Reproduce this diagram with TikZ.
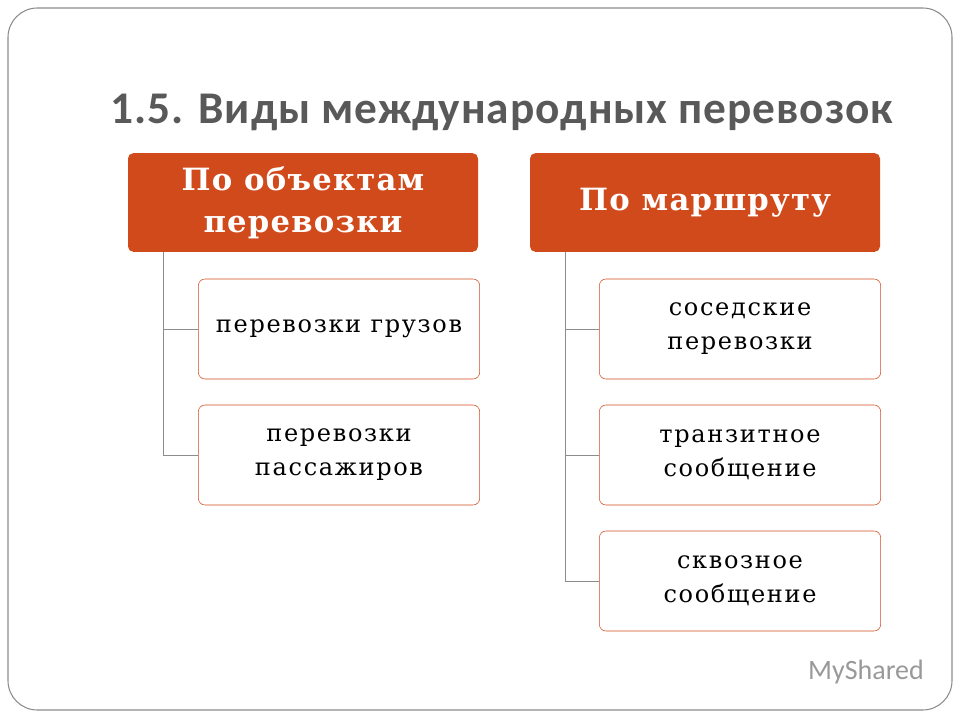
\documentclass[tikz,border=0pt]{standalone}
\usepackage{fontspec}
\setmainfont{DejaVu Serif}
\newfontfamily\titlefont[LetterSpace=2]{Carlito}
\newfontfamily\logofont{Carlito}
\newfontfamily\hdrfont[LetterSpace=4]{DejaVu Serif}
\newfontfamily\chfont[LetterSpace=7]{DejaVu Serif}
\definecolor{hdr}{HTML}{D14A1C}
\definecolor{ttl}{HTML}{595959}
\begin{document}
\begin{tikzpicture}[x=0.75pt,y=-0.75pt,
  hbox/.style={draw=none,fill=hdr,rounded corners=4pt,text=white,font=\hdrfont\fontsize{23}{31.5}\selectfont\bfseries,align=center,minimum width=262.5pt,minimum height=74pt,inner sep=0pt},
  cbox/.style={draw=hdr,fill=white,rounded corners=5pt,font=\chfont\fontsize{18}{25.5}\selectfont,align=center,minimum width=211pt,minimum height=75pt,inner sep=0pt},
  conn/.style={draw=black!45,line width=0.6pt}]
\useasboundingbox (0,0) rectangle (960,720);
\draw[black!45,line width=0.8pt,rounded corners=22pt] (8,8) rectangle (952,710);
\node[font=\titlefont\fontsize{34}{38}\selectfont\bfseries,text=ttl] (title) at (502,112) {1.5. Виды международных перевозок};
\node[hbox] (h1) at (303,202.5) {\rule{0pt}{12pt}По объектам\\перевозки};
\node[hbox] (h2) at (705,202.5) {\rule{0pt}{12pt}По маршруту};
\node[cbox] (a1) at (339,329) {перевозки грузов};
\node[cbox] (a2) at (339,455) {перевозки\\пассажиров};
\node[cbox] (b1) at (740,329) {соседские\\перевозки};
\node[cbox] (b2) at (740,455) {транзитное\\сообщение};
\node[cbox] (b3) at (740,581) {сквозное\\сообщение};
\coordinate (l1) at (163,0); \coordinate (l2) at (565,0);
\draw[conn] (h1.south -| l1) |- (a2.west);
\draw[conn] (l1 |- a1.west) -- (a1.west);
\draw[conn] (h2.south -| l2) |- (b3.west);
\draw[conn] (l2 |- b1.west) -- (b1.west);
\draw[conn] (l2 |- b2.west) -- (b2.west);
\node[font=\logofont\fontsize{21}{24}\selectfont,text=black!40] (logo) at (866,672) {MyShared};
\end{tikzpicture}
\end{document}
